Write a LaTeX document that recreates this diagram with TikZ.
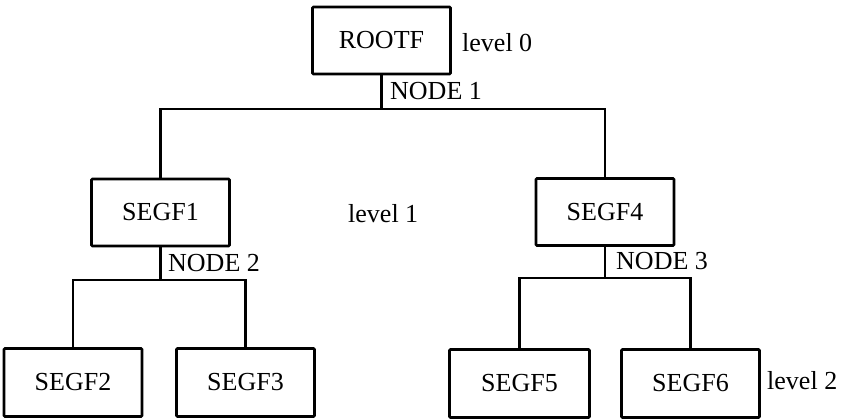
\documentclass[tikz,border=0pt]{standalone}
\usepackage{fontspec}
\setmainfont{Liberation Serif}
\begin{document}
\begin{tikzpicture}[x=1pt,y=-1pt,
  seg/.style={draw,line width=2.6pt,rounded corners=1pt,inner sep=0pt,
    minimum width=138pt,minimum height=67pt,font=\fontsize{26}{26}\selectfont},
  link/.style={line width=2.5pt},
  lbl/.style={inner sep=0pt,anchor=base west,font=\fontsize{26}{26}\selectfont}]
\useasboundingbox (0,0) rectangle (846,419);
% segment boxes
\node[seg] (rootf) at (381.5,40.5) {\raisebox{-2pt}{ROOTF}};
\node[seg] (segf1) at (160.5,212.5) {SEGF1};
\node[seg] (segf4) at (605,212) {SEGF4};
\node[seg,minimum height=68pt] (segf2) at (73,382.5) {SEGF2};
\node[seg,minimum height=68pt] (segf3) at (245.5,382.5) {SEGF3};
\node[seg,minimum height=68pt,minimum width=140pt] (segf5) at (519.5,383.5) {SEGF5};
\node[seg,minimum height=68pt] (segf6) at (690.5,383.5) {SEGF6};
% branch points
\coordinate (b1) at (rootf.south |- 0,109);
\coordinate (b2) at (segf1.south |- 0,280);
\coordinate (b3) at (segf4.south |- 0,278);
% connectors
\draw[link] (rootf.south) -- (b1);
\draw[link] (segf1.north) |- (b1) -| (segf4.north);
\draw[link] (segf1.south) -- (b2);
\draw[link] (segf2.north) |- (b2) -| (segf3.north);
\draw[link] (segf4.south) -- (b3);
\draw[link] (segf5.north) |- (b3) -| (segf6.north);
% labels
\node[lbl] (n1) at (390,100) {NODE 1};
\node[lbl] (n2) at (168,272) {NODE 2};
\node[lbl] (n3) at (616,270) {NODE 3};
\node[lbl] (l0) at (462,52) {level 0};
\node[lbl] (l1) at (348,223) {level 1};
\node[lbl] (l2) at (767,390) {level 2};
\end{tikzpicture}
\end{document}
